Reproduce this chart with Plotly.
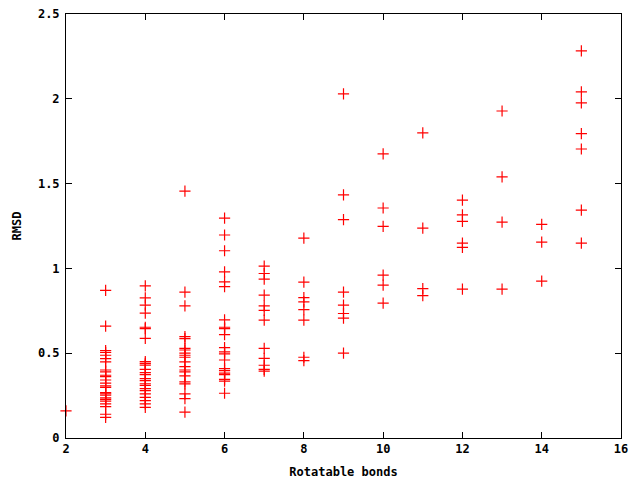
import plotly.graph_objects as go

# RMSD values, grouped by number of rotatable bonds
rmsd_2 = [0.16]
rmsd_3 = [0.87, 0.66, 0.515, 0.504, 0.488, 0.468, 0.449, 0.401, 0.390, 0.370, 0.362,
          0.342, 0.323, 0.307, 0.299, 0.268, 0.260, 0.252, 0.236, 0.228, 0.217,
          0.201, 0.185, 0.140, 0.122]
rmsd_4 = [0.897, 0.826, 0.783, 0.736, 0.653, 0.645, 0.588, 0.450, 0.440, 0.430,
          0.405, 0.385, 0.374, 0.350, 0.338, 0.320, 0.310, 0.291, 0.279, 0.260,
          0.240, 0.220, 0.201, 0.181]
rmsd_5 = [1.456, 0.860, 0.779, 0.598, 0.586, 0.529, 0.519, 0.500, 0.488, 0.476,
          0.449, 0.421, 0.401, 0.390, 0.366, 0.331, 0.319, 0.260, 0.232, 0.153]
rmsd_6 = [1.297, 1.197, 1.104, 0.980, 0.921, 0.893, 0.697, 0.653, 0.645, 0.610,
          0.533, 0.508, 0.496, 0.460, 0.409, 0.397, 0.382, 0.374, 0.346, 0.335, 0.264]
rmsd_7 = [1.013, 0.970, 0.937, 0.842, 0.779, 0.752, 0.695, 0.529, 0.470, 0.429,
          0.405, 0.394]
rmsd_8 = [1.179, 0.919, 0.828, 0.803, 0.757, 0.695, 0.476, 0.456]
rmsd_9 = [2.029, 1.433, 1.287, 0.860, 0.783, 0.734, 0.707, 0.500]
rmsd_10 = [1.675, 1.356, 1.248, 0.960, 0.901, 0.795]
rmsd_11 = [1.799, 1.238, 0.881, 0.840]
rmsd_12 = [1.403, 1.316, 1.277, 1.149, 1.124, 0.878]
rmsd_13 = [1.928, 1.540, 1.273, 0.878]
rmsd_14 = [1.260, 1.155, 0.925]
rmsd_15 = [2.283, 2.041, 1.976, 1.795, 1.704, 1.344, 1.149]

groups = {2: rmsd_2, 3: rmsd_3, 4: rmsd_4, 5: rmsd_5, 6: rmsd_6, 7: rmsd_7,
          8: rmsd_8, 9: rmsd_9, 10: rmsd_10, 11: rmsd_11, 12: rmsd_12,
          13: rmsd_13, 14: rmsd_14, 15: rmsd_15}

xs = []
ys = []
for b, vals in groups.items():
    xs += [b] * len(vals)
    ys += vals

font = dict(family="DejaVu Sans Mono", size=12, color="black", weight="bold")

fig = go.Figure()
fig.add_trace(go.Scatter(
    x=xs, y=ys, mode="markers", cliponaxis=False,
    marker=dict(symbol="cross-thin", size=8, line=dict(color="#ff0000", width=1.2)),
    showlegend=False,
))

axis = dict(showline=True, linecolor="black", linewidth=1, mirror="ticks",
            ticks="inside", ticklen=6, tickcolor="black", showgrid=False,
            zeroline=False, tickfont=font, automargin=False)

fig.update_xaxes(range=[2, 16], tick0=2, dtick=2, **axis,
                 title=dict(text="Rotatable bonds", font=font, standoff=12))
fig.update_yaxes(range=[0, 2.5], tick0=0, dtick=0.5, **axis, ticklabelstandoff=3,
                 title=dict(text="RMSD", font=font, standoff=13))

fig.update_layout(
    width=640, height=480,
    margin=dict(l=66, r=19, t=14, b=42),
    plot_bgcolor="white", paper_bgcolor="white",
)

# drop the default page margin so the figure sits at the window's corner
fig.write_html("out.html", config={"displayModeBar": False},
               post_script="document.body.style.margin='0px';")
